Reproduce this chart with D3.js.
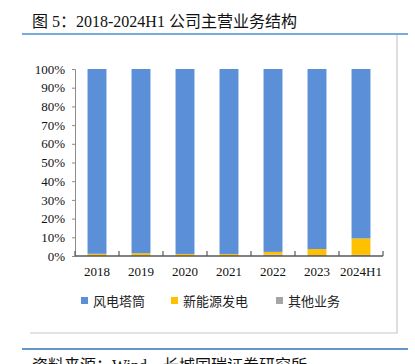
<!DOCTYPE html>
<html>
<head>
<meta charset="utf-8">
<script src="https://cdn.jsdelivr.net/npm/d3@7"></script>
<style>
  body { margin: 0; background: #fff; }
  svg { display: block; }
</style>
</head>
<body>
<svg id="chart"></svg>
<script>
const years = ['2018', '2019', '2020', '2021', '2022', '2023', '2024H1'];
const tower = [98.8, 98.5, 98.9, 98.9, 97.8, 96.3, 90.6];
const newEnergy = [0.8, 1.1, 0.8, 0.7, 1.4, 3.2, 8.8];
const other = [0.4, 0.4, 0.3, 0.4, 0.8, 0.5, 0.6];
const seriesNames = ['风电塔筒', '新能源发电', '其他业务'];
const yTicks = [0, 10, 20, 30, 40, 50, 60, 70, 80, 90, 100];

const W = 415, H = 364;
const margin = { top: 69, left: 75, right: 32, bottom: 108 };
const innerW = 383 - margin.left;
const innerH = 256 - margin.top;

const color = d3.scaleOrdinal(seriesNames, ['#5b8fd8', '#ffc000', '#a5a5a5']);
const serif = '"Liberation Serif", "Times New Roman", serif';
const cjk = '"Liberation Serif", "Noto Sans CJK SC", sans-serif';

const svg = d3.select('#chart')
  .attr('width', W)
  .attr('height', H);

// title + frame lines
svg.append('text')
  .attr('x', 32)
  .attr('y', 27)
  .attr('font-family', cjk)
  .attr('font-size', 16)
  .attr('fill', '#111')
  .text('图 5：2018-2024H1 公司主营业务结构');

svg.append('line')
  .attr('x1', 22).attr('x2', 408).attr('y1', 34).attr('y2', 34)
  .attr('stroke', '#4a8fd6').attr('stroke-width', 1.5);
svg.append('polyline')
  .attr('points', '397,35 397,333 30,333')
  .attr('fill', 'none')
  .attr('stroke', '#c8c8c8').attr('stroke-width', 1.2);
svg.append('line')
  .attr('x1', 22).attr('x2', 408).attr('y1', 349).attr('y2', 349)
  .attr('stroke', '#2e75b6').attr('stroke-width', 1.5);
svg.append('text')
  .attr('x', 32)
  .attr('y', 371)
  .attr('font-family', cjk)
  .attr('font-size', 16)
  .attr('fill', '#111')
  .text('资料来源：Wind，长城国瑞证券研究所');

const g = svg.append('g')
  .attr('transform', `translate(${margin.left},${margin.top})`);

const x = d3.scaleBand()
  .domain(years)
  .range([0, innerW])
  .paddingInner(0.57)
  .paddingOuter(0.285);

const y = d3.scaleLinear()
  .domain([0, 100])
  .range([innerH, 0]);

const rows = years.map((yr, i) => ({
  year: yr,
  '风电塔筒': tower[i],
  '新能源发电': newEnergy[i],
  '其他业务': other[i]
}));

// bottom-up order: other, new energy, tower
const stack = d3.stack().keys(['其他业务', '新能源发电', '风电塔筒']);
const layers = stack(rows);

g.selectAll('.layer')
  .data(layers)
  .enter()
  .append('g')
  .attr('class', 'layer')
  .attr('fill', d => color(d.key))
  .selectAll('rect')
  .data(d => d)
  .enter()
  .append('rect')
  .attr('x', d => x(d.data.year))
  .attr('width', x.bandwidth())
  .attr('y', d => y(d[1]))
  .attr('height', d => y(d[0]) - y(d[1]));

// y axis
const yAxis = g.append('g')
  .call(d3.axisLeft(y).tickValues(yTicks).tickFormat(d => d + '%').tickSize(3).tickPadding(7));
yAxis.select('.domain').attr('stroke', '#8c8c8c');
yAxis.selectAll('.tick line').attr('stroke', '#8c8c8c');
yAxis.selectAll('text')
  .attr('font-family', serif)
  .attr('font-size', 13)
  .attr('fill', '#111');

// x axis with ticks at band boundaries pointing up
const xAxis = g.append('g')
  .attr('transform', `translate(0,${innerH})`);
xAxis.append('line')
  .attr('x1', 0).attr('x2', innerW)
  .attr('stroke', '#595959').attr('stroke-width', 1.5);
const step = x.step();
xAxis.selectAll('.xtick')
  .data(d3.range(years.length + 1))
  .enter()
  .append('line')
  .attr('x1', i => i * step).attr('x2', i => i * step)
  .attr('y1', 0).attr('y2', -5)
  .attr('stroke', '#595959').attr('stroke-width', 1.2);
xAxis.selectAll('.xlabel')
  .data(years)
  .enter()
  .append('text')
  .attr('x', d => x(d) + x.bandwidth() / 2)
  .attr('y', 20)
  .attr('text-anchor', 'middle')
  .attr('font-family', serif)
  .attr('font-size', 13)
  .attr('fill', '#111')
  .text(d => d);

// legend
const legendX = [81, 171, 276];
const legend = svg.append('g')
  .selectAll('g')
  .data(seriesNames)
  .enter()
  .append('g')
  .attr('transform', (d, i) => `translate(${legendX[i]},301)`);
legend.append('rect')
  .attr('x', 0).attr('y', -4)
  .attr('width', 7).attr('height', 7)
  .attr('fill', d => color(d));
legend.append('text')
  .attr('x', 12)
  .attr('y', 0)
  .attr('dy', '0.35em')
  .attr('font-family', '"Noto Sans CJK SC", sans-serif')
  .attr('font-size', 13)
  .attr('fill', '#222')
  .text(d => d);
</script>
</body>
</html>
